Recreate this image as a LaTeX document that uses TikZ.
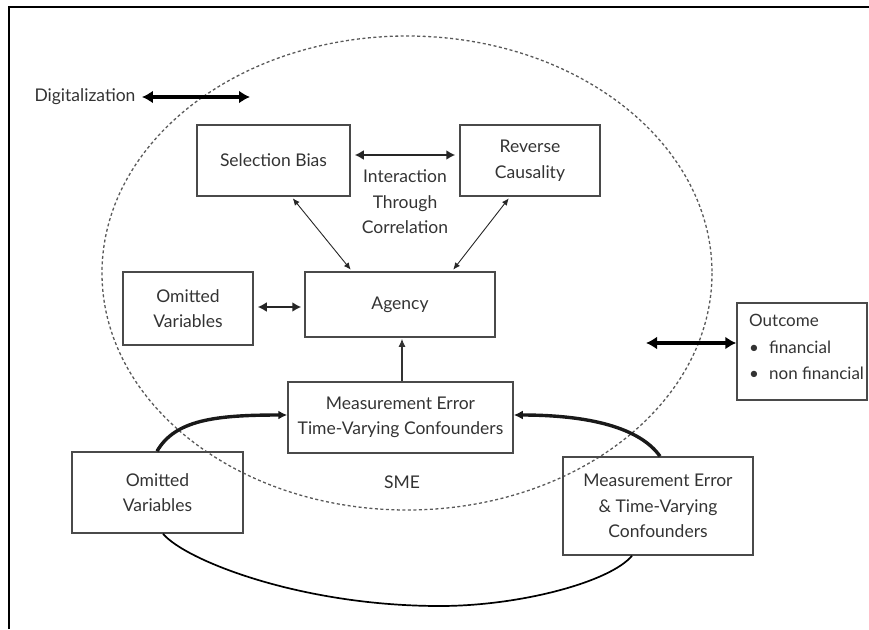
\documentclass[tikz,border=0pt]{standalone}
\usepackage{fontspec}
\setmainfont{Lato}
\usetikzlibrary{arrows.meta}
\definecolor{ink}{HTML}{333333}
\definecolor{edge}{HTML}{4A4A4A}
\begin{document}
\begin{tikzpicture}[x=1pt,y=-1pt,
  font=\fontsize{17.5}{25.5}\selectfont, text=ink,
  box/.style={draw=edge, line width=1.5pt, rectangle, align=center, inner sep=0pt},
  thin arrow/.style={{Latex[length=7pt,width=6pt]}-{Latex[length=7pt,width=6pt]}, line width=0.9pt, draw=black!85},
  mid arrow/.style={{Latex[length=9pt,width=10pt]}-{Latex[length=9pt,width=10pt]}, line width=2.8pt, draw=black!85},
  big arrow/.style={{Latex[length=11pt,width=13pt]}-{Latex[length=11pt,width=13pt]}, line width=3.8pt, draw=black},
  loop arrow/.style={-{Latex[length=9pt,width=9pt]}, line width=3.4pt, draw=black!90},
  sme/.style={draw=black!65, line width=1.3pt, dash pattern=on 3pt off 2.5pt}]
\useasboundingbox (0,0) rectangle (869,629);

% outer frame (top and left edges)
\draw[line width=2pt] (9,629) -- (9,7) -- (869,7);

% SME boundary
\draw[sme] (407,273) ellipse [x radius=305, y radius=237];

% nodes
\node[box, minimum width=153pt, minimum height=71pt] (sb) at (273.5,160.5) {Selection Bias};
\node[box, minimum width=140pt, minimum height=71pt] (rc) at (530,160.5) {Reverse\\Causality};
\node[box, minimum width=190pt, minimum height=65pt] (ag) at (400,304.5) {Agency};
\node[box, minimum width=130pt, minimum height=73pt] (ov1) at (188,308.5) {Omitted\\Variables};
\node[box, minimum width=225pt, minimum height=71pt] (me1) at (400.5,417.5) {Measurement Error\\Time-Varying Confounders};
\node[box, minimum width=171pt, minimum height=81pt] (ov2) at (157.5,492.5) {Omitted\\Variables};
\node[box, minimum width=190pt, minimum height=98pt] (me2) at (658,506) {Measurement Error\\\& Time-Varying\\Confounders};
\node[box, minimum width=130pt, minimum height=97pt] (oc) at (802,351.5) {};
\node[anchor=north west, align=left, inner sep=0pt, font=\fontsize{17}{26.5}\selectfont] (octxt) at (749,314)
  {Outcome\\\makebox[20pt][l]{\textbullet}financial\\\makebox[20pt][l]{\textbullet}non financial};

\node (dig) at (85,97) {Digitalization};
\node[align=center] (itc) at (405,202) {Interaction\\Through\\Correlation};
\node (smel) at (402,482) {SME};

% free ends of the external arrows
\coordinate (digR) at (250,97);
\coordinate (ocL) at (646,343);

% connectors
\draw[big arrow] (dig.east) ++(3pt,0) coordinate (digL) (digL) -- (digR);
\draw[big arrow] (ocL) -- ([yshift=8.5pt]oc.west);
\draw[mid arrow, shorten <=4pt, shorten >=4pt] ([yshift=5.5pt]sb.east) -- ([yshift=5.5pt]rc.west);
\draw[mid arrow, shorten <=4pt, shorten >=3pt] ([yshift=1.5pt]ov1.east) -- ([yshift=-2.5pt]ag.west);
\draw[thin arrow, shorten <=2pt, shorten >=2pt] ([xshift=18pt]sb.south) -- ([xshift=-48pt]ag.north);
\draw[thin arrow, shorten <=2pt, shorten >=2pt] ([xshift=-20pt]rc.south) -- ([xshift=52pt]ag.north);
\draw[-{Latex[length=8pt,width=7pt]}, line width=1.2pt, draw=black!80, shorten >=1pt] ([xshift=1.5pt]me1.north) -- ([xshift=2pt]ag.south);

% feedback loops around the SME
\draw[loop arrow] ([xshift=-0.5pt]ov2.north) .. controls (175,420) and (215,415) .. ([yshift=2.5pt]me1.west);
\draw[loop arrow] ([xshift=2pt]me2.north) .. controls (640,428) and (590,415) .. ([yshift=2.5pt]me1.east);
\draw[line width=1.7pt] ([xshift=5.5pt]ov2.south) .. controls (185,560) and (300,606) .. (440,606)
  coordinate (low) .. controls (520,606) and (610,582) .. ([xshift=-26pt]me2.south);
\end{tikzpicture}
\end{document}
